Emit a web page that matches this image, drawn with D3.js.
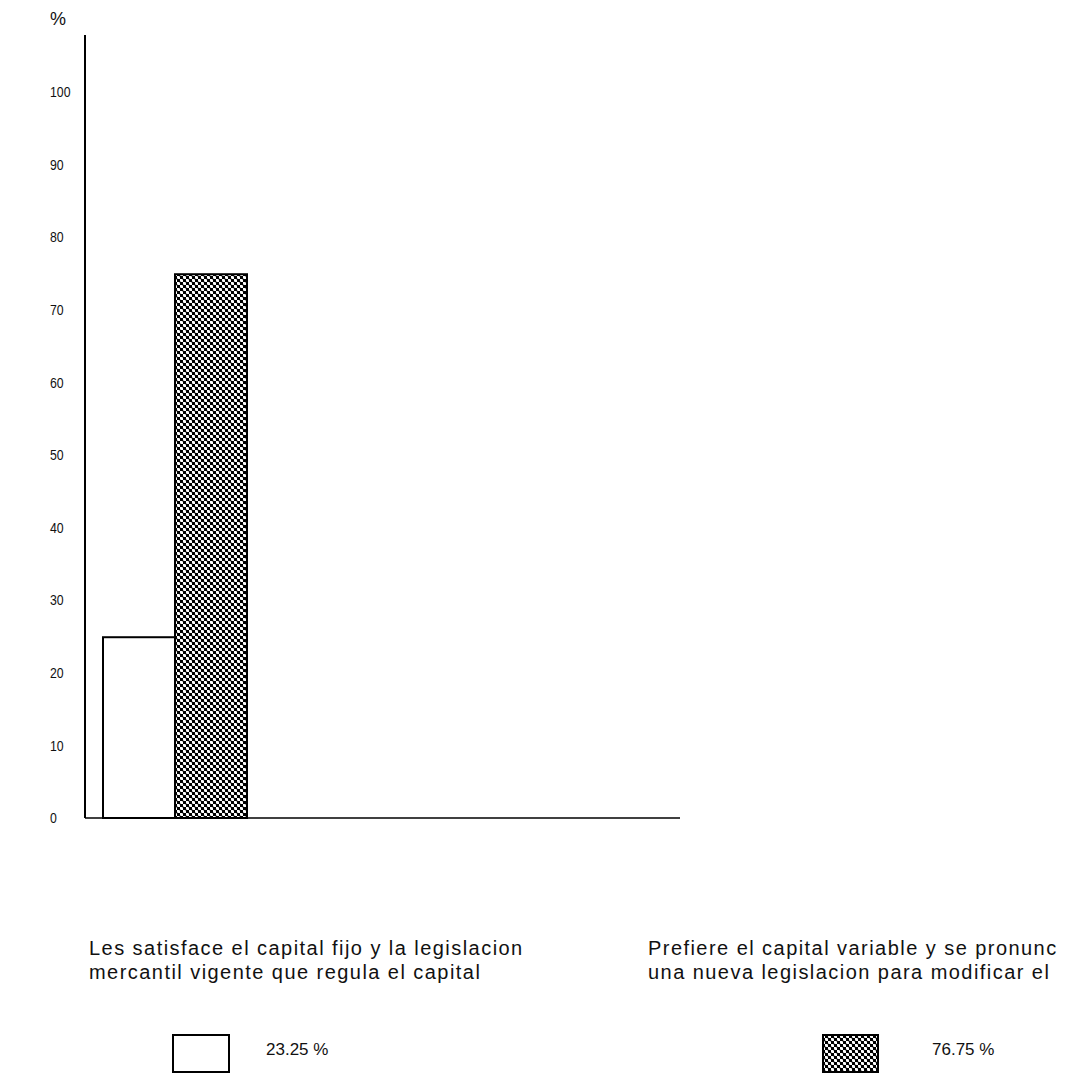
<!DOCTYPE html>
<html><head><meta charset="utf-8">
<script src="https://cdn.jsdelivr.net/npm/d3@7"></script>
<style>
html,body{margin:0;padding:0;background:#fff;overflow:hidden}
text{font-family:"Liberation Sans",Arial,sans-serif;fill:#111}
</style></head>
<body>
<svg id="c" width="1072" height="1076"></svg>
<script>
const series = ["fijo", "variable"];
const barValues = [24.9, 74.9];
const legendLabels = ["23.25 %", "76.75 %"];
const yTicks = [0, 10, 20, 30, 40, 50, 60, 70, 80, 90, 100];
const categoryLines = [
  ["Les satisface el capital fijo y la legislacion", "mercantil vigente que regula el capital"],
  ["Prefiere el capital variable y se pronunc", "una nueva legislacion para modificar el"]
];
const fills = ["#fff", "url(#hatch)"];

const svg = d3.select("#c");
const defs = svg.append("defs");
const pat = defs.append("pattern").attr("id","hatch").attr("patternUnits","userSpaceOnUse")
  .attr("width",6).attr("height",6);
pat.append("rect").attr("width",6).attr("height",6).attr("fill","#fff");
pat.append("rect").attr("x",0).attr("y",0).attr("width",3).attr("height",3).attr("fill","#000");
pat.append("rect").attr("x",3).attr("y",3).attr("width",3).attr("height",3).attr("fill","#000");
pat.append("path").attr("d","M0,0L6,6M-3,3L3,9M3,-3L9,3").attr("stroke","#000").attr("stroke-width",1.2);

const y = d3.scaleLinear().domain([0,100]).range([818, 92]);
const x = d3.scaleBand().domain(series).range([103, 247]).padding(0);

svg.append("line").attr("x1",85).attr("x2",85).attr("y1",35).attr("y2",y(0))
  .attr("stroke","#000").attr("stroke-width",2);
svg.append("line").attr("x1",85).attr("x2",680).attr("y1",y(0)).attr("y2",y(0))
  .attr("stroke","#000").attr("stroke-width",1.5);

// tick labels: narrow digits
svg.append("g").attr("transform","translate(50,0) scale(0.82,1)")
  .selectAll("text").data(yTicks).join("text")
  .attr("x",0).attr("y",d=>y(d)).attr("dy","0.35em")
  .attr("font-size",15).text(d=>d);
svg.append("text").attr("x",50).attr("y",25).attr("font-size",18).text("%");

svg.append("g").selectAll("rect").data(series).join("rect")
  .attr("x",d=>x(d)).attr("width",x.bandwidth())
  .attr("y",(d,i)=>y(barValues[i])).attr("height",(d,i)=>y(0)-y(barValues[i]))
  .attr("fill",(d,i)=>fills[i]).attr("stroke","#000").attr("stroke-width",2);

const catX = [89, 648];
categoryLines.forEach((lines,i)=>{
  lines.forEach((l,j)=>{
    svg.append("text").attr("x",catX[i]).attr("y",955 + j*24)
      .attr("font-size",20).attr("letter-spacing",1.45).text(l);
  });
});

const legBoxX = [173, 823], legBoxW = [56, 55], legTextX = [266, 932];
series.forEach((s,i)=>{
  svg.append("rect").attr("x",legBoxX[i]).attr("y",1035).attr("width",legBoxW[i]).attr("height",37)
    .attr("fill",fills[i]).attr("stroke","#000").attr("stroke-width",2);
  svg.append("text").attr("x",legTextX[i]).attr("y",1055).attr("font-size",17).text(legendLabels[i]);
});
</script>
</body></html>
